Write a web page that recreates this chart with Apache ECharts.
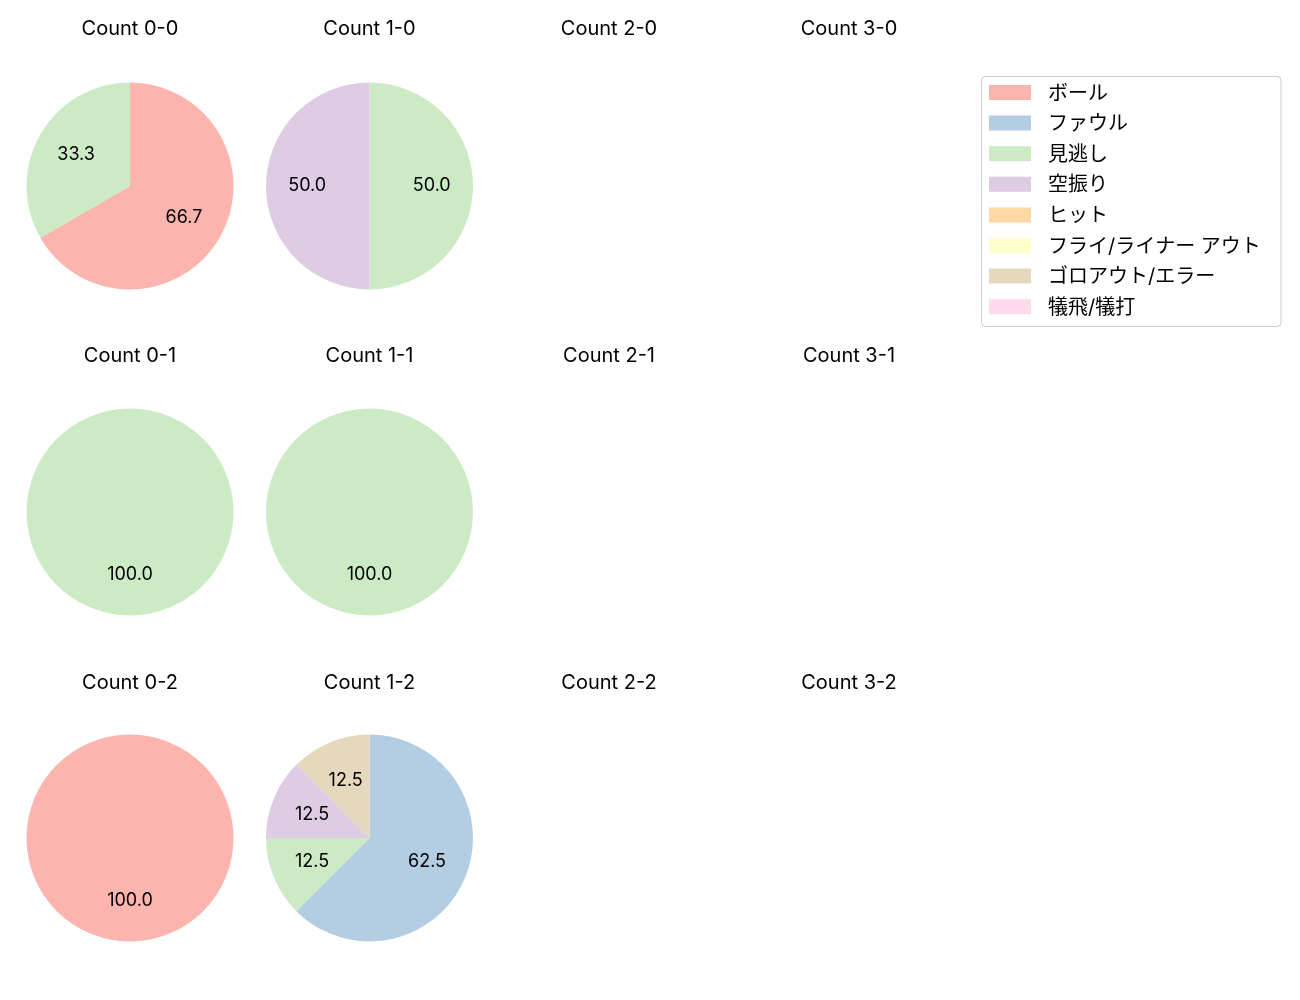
<!DOCTYPE html>
<html><head><meta charset="utf-8">
<script src="https://cdn.jsdelivr.net/npm/echarts@6/dist/echarts.min.js"></script>
<style>html,body{margin:0;padding:0;background:#fff}#c{width:1300px;height:1000px}</style>
</head><body><div id="c"></div>
<script>
const categories = ['ボール','ファウル','見逃し','空振り','ヒット','フライ/ライナー アウト','ゴロアウト/エラー','犠飛/犠打'];
const colors = ['#fbb4ae','#b3cde3','#ccebc5','#decbe4','#fed9a6','#ffffcc','#e5d8bd','#fddaec'];
// counts per category (same order as categories), per ball-strike count
const titles = [
  ['Count 0-0','Count 1-0','Count 2-0','Count 3-0'],
  ['Count 0-1','Count 1-1','Count 2-1','Count 3-1'],
  ['Count 0-2','Count 1-2','Count 2-2','Count 3-2']
];
const count_0_0 = [2,0,1,0,0,0,0,0];
const count_1_0 = [0,0,1,1,0,0,0,0];
const count_2_0 = [0,0,0,0,0,0,0,0];
const count_3_0 = [0,0,0,0,0,0,0,0];
const count_0_1 = [0,0,1,0,0,0,0,0];
const count_1_1 = [0,0,1,0,0,0,0,0];
const count_2_1 = [0,0,0,0,0,0,0,0];
const count_3_1 = [0,0,0,0,0,0,0,0];
const count_0_2 = [1,0,0,0,0,0,0,0];
const count_1_2 = [0,5,1,1,0,0,1,0];
const count_2_2 = [0,0,0,0,0,0,0,0];
const count_3_2 = [0,0,0,0,0,0,0,0];
const values = [
  [count_0_0,count_1_0,count_2_0,count_3_0],
  [count_0_1,count_1_1,count_2_1,count_3_1],
  [count_0_2,count_1_2,count_2_2,count_3_2]
];

const FONT = 'Inter, "Noto Sans CJK JP", sans-serif';
const colX = [130, 369.5, 609, 849];
const rowY = [186, 512, 838];
const titleY = [29, 356, 683];
const R = 103.5;

const chart = echarts.init(document.getElementById('c'), null, {renderer:'canvas'});
const title = [];
const series = [];
for (let r = 0; r < 3; r++) {
  for (let c = 0; c < 4; c++) {
    title.push({
      text: titles[r][c], left: colX[c], top: titleY[r], padding: 0, textAlign: 'center', textVerticalAlign: 'middle',
      textStyle: {fontFamily: FONT, fontSize: 20, fontWeight: 'normal', color: '#000'}
    });
    const vals = values[r][c];
    const total = vals.reduce((a,b)=>a+b,0);
    if (!total) continue;
    const data = [];
    vals.forEach((v,i)=>{ if (v>0) data.push({name: categories[i], value: v, itemStyle:{color: colors[i]}}); });
    series.push({
      type:'pie', center:[colX[c], rowY[r]], radius:[0, R], startAngle:90, clockwise:true,
      silent:true, animation:false, label:{show:false}, labelLine:{show:false},
      itemStyle:{borderWidth:0}, data: data
    });
    series.push({
      type:'pie', center:[colX[c], rowY[r]], radius:[0, R*1.145], startAngle:90, clockwise:true,
      silent:true, animation:false, labelLine:{show:false},
      itemStyle:{color:'rgba(0,0,0,0)', borderWidth:0},
      label:{show:true, position:'inside', fontFamily: FONT, fontSize:18, color:'#000',
        formatter: p => (p.value/total*100).toFixed(1)},
      data: data.map(d=>({name:d.name, value:d.value}))
    });
  }
}

// legend drawn from categories/colors
const graphic = [{
  type:'rect', shape:{x:981.5, y:76.5, width:299.5, height:250, r:4},
  style:{fill:'#fff', stroke:'#cccccc', lineWidth:1}
}];
categories.forEach((name,i)=>{
  const y = 92.5 + i*30.6;
  graphic.push({type:'rect', shape:{x:989, y:y-7.5, width:42, height:15}, style:{fill:colors[i]}});
  graphic.push({type:'text', x:1048, y:y+1, style:{text:name, fill:'#000', font:'20px ' + FONT, textVerticalAlign:'middle', verticalAlign:'middle'}});
});

chart.setOption({backgroundColor:'#fff', animation:false, title, series, graphic});
</script></body></html>
